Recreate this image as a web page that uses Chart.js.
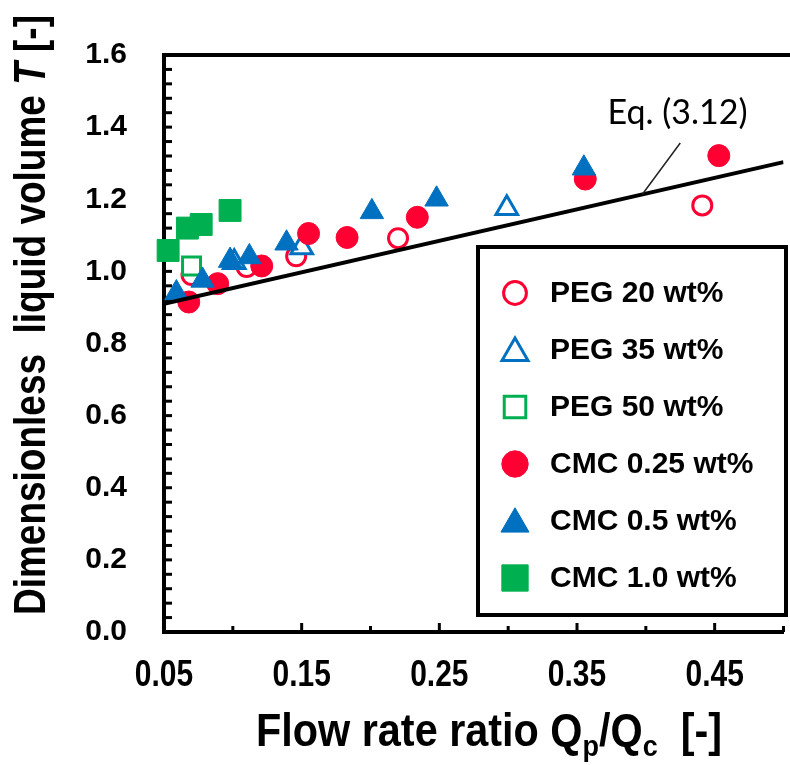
<!DOCTYPE html>
<html>
<head>
<meta charset="utf-8">
<script src="https://cdn.jsdelivr.net/npm/chart.js@4.4.1/dist/chart.umd.min.js"></script>
<style>
  html, body { margin: 0; padding: 0; background: #fff; }
  #wrap { width: 790px; height: 765px; overflow: hidden; }
  canvas { display: block; }
</style>
</head>
<body>
<div id="wrap"><canvas id="chart" width="800" height="765"></canvas></div>
<script>
// Flow rate ratio Qp/Qc (x) and dimensionless liquid volume T (y)
const peg20X = [0.070, 0.110, 0.146, 0.220, 0.441];
const peg20T = [0.990, 1.012, 1.042, 1.092, 1.183];

const peg35X = [0.101, 0.150, 0.299];
const peg35T = [1.025, 1.066, 1.175];

const peg50X = [0.070];
const peg50T = [1.015];

const cmc025X = [0.068, 0.089, 0.121, 0.155, 0.183, 0.234, 0.356, 0.453];
const cmc025T = [0.915, 0.966, 1.015, 1.105, 1.094, 1.150, 1.256, 1.321];

const cmc05X = [0.059, 0.078, 0.098, 0.112, 0.139, 0.201, 0.248, 0.355];
const cmc05T = [0.940, 0.975, 1.030, 1.040, 1.078, 1.165, 1.200, 1.286];

const cmc10X = [0.053, 0.067, 0.077, 0.098];
const cmc10T = [1.058, 1.120, 1.130, 1.169];

// Eq. (3.12)
const eqX = [0.05, 0.50];
const eqT = [0.910, 1.303];

const xTickValues = [0.05, 0.15, 0.25, 0.35, 0.45];
const yTickValues = [0.0, 0.2, 0.4, 0.6, 0.8, 1.0, 1.2, 1.4, 1.6];

const RED = "#FF0033";
const BLUE = "#0070C0";
const GREEN = "#00B050";
const FONT = "'Liberation Sans', Arial, sans-serif";

function pts(xs, ys) {
  return xs.map((x, i) => ({ x: x, y: ys[i] }));
}

function series(label, xs, ys, style, color, hollow, r, order) {
  return {
    label: label,
    data: pts(xs, ys),
    pointStyle: style,
    pointRadius: r,
    pointHoverRadius: r,
    pointBackgroundColor: hollow ? "#fff" : color,
    pointBorderColor: color,
    pointBorderWidth: hollow ? 3 : 1,
    showLine: false,
    clip: false,
    order: order,
    hollow: hollow,
    mcolor: color
  };
}

const datasets = [
  series("PEG 20 wt%", peg20X, peg20T, "circle", RED, true, 9.5, 6),
  series("PEG 35 wt%", peg35X, peg35T, "triangle", BLUE, true, 12.5, 5),
  series("PEG 50 wt%", peg50X, peg50T, "rect", GREEN, true, 12.7, 4),
  series("CMC 0.25 wt%", cmc025X, cmc025T, "circle", RED, false, 11, 3),
  series("CMC 0.5 wt%", cmc05X, cmc05T, "triangle", BLUE, false, 13.5, 2),
  series("CMC 1.0 wt%", cmc10X, cmc10T, "rect", GREEN, false, 15.5, 1),
  {
    label: "Eq. (3.12)",
    data: pts(eqX, eqT),
    showLine: true,
    borderColor: "#000",
    borderWidth: 4,
    pointRadius: 0,
    order: 0
  }
];

function near(v, list) {
  return list.some(t => Math.abs(v - t) < 1e-6);
}

// draws text pieces squeezed horizontally (narrow bold look)
// fit: target width in px, or a plain scale factor when <= 1
function drawParts(ctx, parts, x, y, fit, rotate) {
  let total = 0;
  parts.forEach(p => { ctx.font = p.f; p.w = ctx.measureText(p.t).width; total += p.w; });
  const s = fit > 1 ? fit / total : fit;
  ctx.save();
  ctx.translate(x, y);
  if (rotate) ctx.rotate(-Math.PI / 2);
  ctx.scale(s, 1);
  ctx.textAlign = "left";
  ctx.textBaseline = "alphabetic";
  ctx.fillStyle = "#000";
  let cx = -total / 2;
  parts.forEach(p => {
    ctx.font = p.f;
    ctx.fillText(p.t, cx, p.dy || 0);
    cx += p.w;
  });
  ctx.restore();
}

// inward tick marks, top frame line, narrow x tick labels
const framePlugin = {
  id: "frame",
  beforeDatasetsDraw(chart) {
    const ctx = chart.ctx, a = chart.chartArea;
    const xs = chart.scales.x, ys = chart.scales.y;
    ctx.save();
    ctx.strokeStyle = "#000";
    ctx.lineWidth = 4;
    ctx.beginPath();
    ctx.moveTo(a.left - 2, a.top);
    ctx.lineTo(a.right + 10, a.top);
    ctx.stroke();
    ctx.lineWidth = 3;
    ys.ticks.forEach(t => {
      const py = ys.getPixelForValue(t.value);
      ctx.beginPath();
      ctx.moveTo(a.left, py);
      ctx.lineTo(a.left + 8, py);
      ctx.stroke();
    });
    xs.ticks.forEach(t => {
      const px = xs.getPixelForValue(t.value);
      const len = near(t.value, xTickValues) ? 9 : 6;
      ctx.beginPath();
      ctx.moveTo(px, a.bottom);
      ctx.lineTo(px, a.bottom - len);
      ctx.stroke();
    });
    ctx.restore();

    xTickValues.forEach(v => {
      drawParts(ctx, [{ t: v.toFixed(2), f: "bold 37px " + FONT }],
        xs.getPixelForValue(v), a.bottom + 54, 0.81, false);
    });
  }
};

function drawMarker(ctx, style, x, y, r, color, hollow) {
  ctx.save();
  ctx.fillStyle = hollow ? "#fff" : color;
  ctx.strokeStyle = color;
  ctx.lineWidth = hollow ? 3 : 1;
  ctx.beginPath();
  if (style === "circle") {
    ctx.arc(x, y, r, 0, Math.PI * 2);
  } else if (style === "triangle") {
    for (let k = 0; k < 3; k++) {
      const ang = -Math.PI / 2 + k * 2 * Math.PI / 3;
      const px = x + Math.cos(ang) * r, py = y + Math.sin(ang) * r;
      if (k === 0) ctx.moveTo(px, py); else ctx.lineTo(px, py);
    }
    ctx.closePath();
  } else {
    const h = r * Math.SQRT1_2;
    ctx.rect(x - h, y - h, 2 * h, 2 * h);
  }
  ctx.fill();
  ctx.stroke();
  ctx.restore();
}

const decorPlugin = {
  id: "decor",
  afterDraw(chart) {
    const ctx = chart.ctx;
    const xs = chart.scales.x, ys = chart.scales.y;

    // axis titles
    drawParts(ctx, [
      { t: "Dimensionless  liquid volume ", f: "bold 44px " + FONT },
      { t: "T", f: "italic bold 44px " + FONT },
      { t: " [-]", f: "bold 44px " + FONT }
    ], 45, 315, 600, true);

    drawParts(ctx, [
      { t: "Flow rate ratio Q", f: "bold 46px " + FONT },
      { t: "p", f: "bold 30px " + FONT, dy: 10 },
      { t: "/Q", f: "bold 46px " + FONT },
      { t: "c", f: "bold 30px " + FONT, dy: 10 },
      { t: "  [-]", f: "bold 46px " + FONT }
    ], 489, 746, 466, false);

    // Eq. (3.12) label with leader line
    ctx.save();
    ctx.strokeStyle = "#222";
    ctx.lineWidth = 1.5;
    ctx.beginPath();
    ctx.moveTo(xs.getPixelForValue(0.3975), ys.getPixelForValue(1.214));
    ctx.lineTo(xs.getPixelForValue(0.425), ys.getPixelForValue(1.356));
    ctx.stroke();
    ctx.fillStyle = "#000";
    ctx.font = "34px Lato, " + FONT;
    ctx.textAlign = "center";
    ctx.textBaseline = "middle";
    ctx.fillText("Eq. (3.12)", xs.getPixelForValue(0.423), ys.getPixelForValue(1.44));
    ctx.restore();

    // legend box
    const bx = 478, by = 247, bw = 308, bh = 368;
    ctx.save();
    ctx.fillStyle = "#fff";
    ctx.fillRect(bx, by, bw, bh);
    ctx.strokeStyle = "#000";
    ctx.lineWidth = 4;
    ctx.strokeRect(bx, by, bw, bh);
    ctx.font = "bold 30px " + FONT;
    ctx.textAlign = "left";
    ctx.textBaseline = "middle";
    datasets.slice(0, 6).forEach((d, i) => {
      const rowY = by + 46 + i * 57;
      drawMarker(ctx, d.pointStyle, bx + 37, rowY + (d.pointStyle === "triangle" ? 3 : 0),
        d.pointRadius * 1.2, d.mcolor, d.hollow);
      ctx.fillStyle = "#000";
      ctx.fillText(d.label, bx + 72, rowY + 1);
    });
    ctx.restore();
  }
};

new Chart(document.getElementById("chart"), {
  type: "scatter",
  data: { datasets: datasets },
  options: {
    responsive: false,
    animation: false,
    layout: { padding: { top: 41, right: 2, bottom: 0, left: 0 } },
    plugins: {
      legend: { display: false },
      tooltip: { enabled: false }
    },
    scales: {
      x: {
        type: "linear",
        min: 0.05,
        max: 0.5,
        grid: { display: false, drawTicks: false },
        border: { display: true, width: 4, color: "#000" },
        ticks: {
          stepSize: 0.05,
          autoSkip: false,
          maxRotation: 0,
          display: false
        },
        afterFit: s => { s.height = 133; }
      },
      y: {
        type: "linear",
        min: 0,
        max: 1.6,
        grid: { display: false, drawTicks: false },
        border: { display: true, width: 4, color: "#000" },
        ticks: {
          stepSize: 0.04,
          autoSkip: false,
          padding: 37,
          color: "#000",
          font: { family: FONT, size: 30, weight: "bold" },
          callback: v => near(v, yTickValues) ? v.toFixed(1) : ""
        },
        afterFit: s => { s.width = 164; }
      }
    }
  },
  plugins: [framePlugin, decorPlugin]
});
</script>
</body>
</html>
